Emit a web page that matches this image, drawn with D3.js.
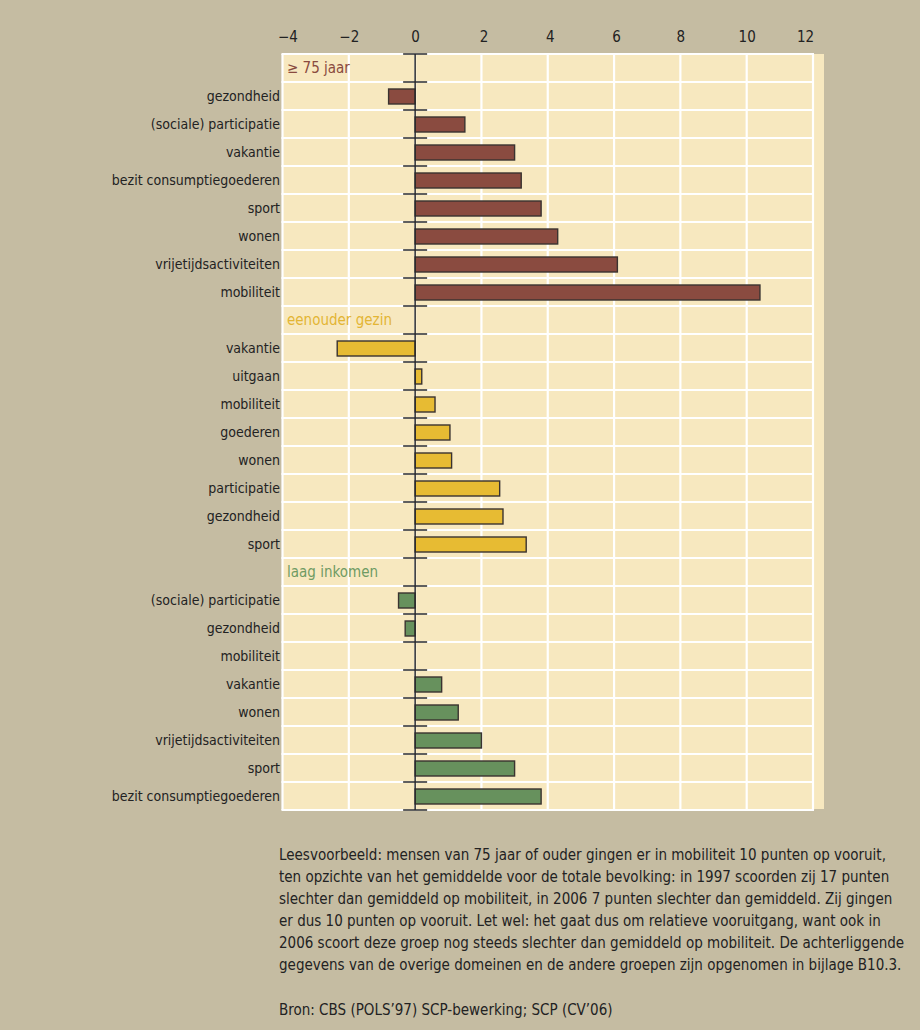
<!DOCTYPE html>
<html><head><meta charset="utf-8">
<script src="https://cdn.jsdelivr.net/npm/d3@7"></script>
<style>
html,body{margin:0;padding:0;background:#c5bca2;}
svg{display:block;}
text{font-family:"DejaVu Sans Condensed","DejaVu Sans",sans-serif;font-stretch:condensed;}
</style></head>
<body>
<svg id="chart" width="920" height="1030"></svg>
<script>
// ---- data ----
const groups = ["≥ 75 jaar", "eenouder gezin", "laag inkomen"];
const catsOld = ["gezondheid","(sociale) participatie","vakantie","bezit consumptiegoederen","sport","wonen","vrijetijdsactiviteiten","mobiliteit"];
const valsOld = [-0.8, 1.5, 3.0, 3.2, 3.8, 4.3, 6.1, 10.4];
const catsSingle = ["vakantie","uitgaan","mobiliteit","goederen","wonen","participatie","gezondheid","sport"];
const valsSingle = [-2.35, 0.2, 0.6, 1.05, 1.1, 2.55, 2.65, 3.35];
const catsLow = ["(sociale) participatie","gezondheid","mobiliteit","vakantie","wonen","vrijetijdsactiviteiten","sport","bezit consumptiegoederen"];
const valsLow = [-0.5, -0.3, 0, 0.8, 1.3, 2.0, 3.0, 3.8];
const xTicks = [-4,-2,0,2,4,6,8,10,12];
const notes = [
 "Leesvoorbeeld: mensen van 75 jaar of ouder gingen er in mobiliteit 10 punten op vooruit,",
 "ten opzichte van het gemiddelde voor de totale bevolking: in 1997 scoorden zij 17 punten",
 "slechter dan gemiddeld op mobiliteit, in 2006 7 punten slechter dan gemiddeld. Zij gingen",
 "er dus 10 punten op vooruit. Let wel: het gaat dus om relatieve vooruitgang, want ook in",
 "2006 scoort deze groep nog steeds slechter dan gemiddeld op mobiliteit. De achterliggende",
 "gegevens van de overige domeinen en de andere groepen zijn opgenomen in bijlage B10.3."
];
const source = "Bron: CBS (POLS’97) SCP-bewerking; SCP (CV’06)";

// ---- styling ----
const colors = ["#8a4b40", "#e7bb33", "#67915d"];
const labelColors = ["#8a4b40", "#e3b534", "#6f9b63"];

// build rows
const rows = [];
const sets = [[catsOld, valsOld], [catsSingle, valsSingle], [catsLow, valsLow]];
sets.forEach(([cats, vals], gi) => {
  rows.push({type: "header", label: groups[gi], g: gi, id: "h" + gi});
  cats.forEach((c, i) => rows.push({type: "bar", label: c, v: vals[i], g: gi, id: gi + "_" + i}));
});

const svg = d3.select("#chart");
svg.append("rect").attr("width", 920).attr("height", 1030).attr("fill", "#c5bca2");

const x = d3.scaleLinear().domain([-4, 12]).range([282.5, 813]);
const y = d3.scaleBand().domain(rows.map(r => r.id)).range([54, 810]).paddingInner(0).paddingOuter(0);

// cream background
svg.append("rect").attr("x", 282).attr("y", 54).attr("width", 824 - 282).attr("height", 809 - 54).attr("fill", "#f7e8bf");

// grid
const grid = svg.append("g");
grid.selectAll("line.v").data(xTicks).join("line")
  .attr("x1", d => x(d)).attr("x2", d => x(d)).attr("y1", 54).attr("y2", 810)
  .attr("stroke", "#fff").attr("stroke-width", 2.2);
const bounds = rows.map(r => y(r.id)).concat([810]);
grid.selectAll("line.h").data(bounds).join("line")
  .attr("x1", 281.5).attr("x2", 814).attr("y1", d => d).attr("y2", d => d)
  .attr("stroke", "#fff").attr("stroke-width", 2.2);

// top axis
const axis = d3.axisTop(x).tickValues(xTicks).tickSize(0).tickPadding(0)
  .tickFormat(d => d < 0 ? "−" + Math.abs(d) : String(d));
const ag = svg.append("g").attr("transform", "translate(0,42)").call(axis);
ag.select(".domain").remove();
ag.selectAll("text").attr("font-size", 15).attr("fill", "#222")
  .style("font-family", '"DejaVu Sans Condensed","DejaVu Sans",sans-serif');
ag.selectAll(".tick").filter(d => d === 12).select("text").attr("dx", -8);
ag.selectAll(".tick").filter(d => d === -4).select("text").attr("dx", 5);
ag.selectAll(".tick").filter(d => d > 0 && d < 8).select("text").attr("dx", 2);

// bars
const bh = 15;
svg.append("g").selectAll("rect").data(rows.filter(r => r.type === "bar" && r.v !== 0)).join("rect")
  .attr("x", d => x(Math.min(0, d.v)))
  .attr("width", d => Math.abs(x(d.v) - x(0)))
  .attr("y", d => y(d.id) + y.bandwidth() / 2 - bh / 2 + 0.5)
  .attr("height", bh)
  .attr("fill", d => colors[d.g])
  .attr("stroke", "#3a3330").attr("stroke-width", 1.4);

// zero axis and ticks
svg.append("line").attr("x1", x(0)).attr("x2", x(0)).attr("y1", 54).attr("y2", 810)
  .attr("stroke", "#2a2a2a").attr("stroke-width", 1.5);
svg.append("g").selectAll("line").data(bounds).join("line")
  .attr("x1", x(0) - 12).attr("x2", x(0) + 12).attr("y1", d => d).attr("y2", d => d)
  .attr("stroke", "#2a2a2a").attr("stroke-width", 1.5);

// category labels
svg.append("g").selectAll("text").data(rows.filter(r => r.type === "bar")).join("text")
  .attr("x", 280).attr("y", d => y(d.id) + y.bandwidth() / 2 + 5)
  .attr("text-anchor", "end").attr("font-size", 14).attr("fill", "#222")
  .text(d => d.label);

// group headers
svg.append("g").selectAll("text").data(rows.filter(r => r.type === "header")).join("text")
  .attr("x", 287).attr("y", d => y(d.id) + y.bandwidth() / 2 + 5)
  .attr("font-size", 15).attr("fill", d => labelColors[d.g])
  .text(d => d.label);

// notes
svg.append("g").selectAll("text").data(notes).join("text")
  .attr("x", 279).attr("y", (d, i) => 860 + i * 22)
  .attr("font-size", 15).attr("fill", "#222").text(d => d);
svg.append("text").attr("x", 279).attr("y", 1015).attr("font-size", 15).attr("fill", "#222").text(source);
</script>
</body></html>
